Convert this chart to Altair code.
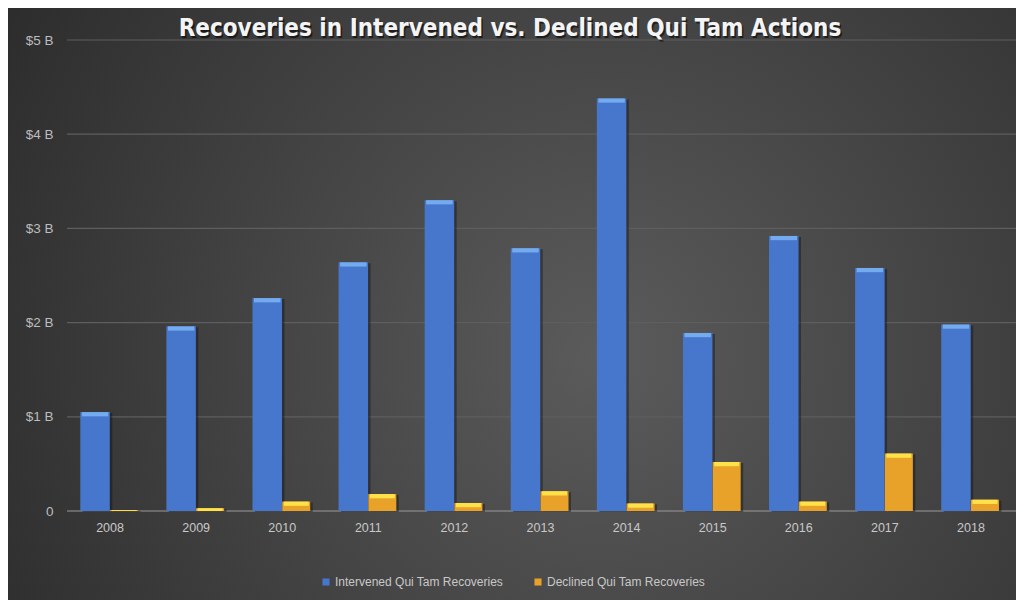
import altair as alt
import pandas as pd

years = ["2008", "2009", "2010", "2011", "2012", "2013", "2014", "2015", "2016", "2017", "2018"]
intervened = [1.05, 1.96, 2.26, 2.64, 3.30, 2.79, 4.38, 1.89, 2.92, 2.58, 1.98]
declined = [0.01, 0.03, 0.10, 0.18, 0.085, 0.21, 0.08, 0.52, 0.10, 0.61, 0.12]
series_names = ["Intervened Qui Tam Recoveries", "Declined Qui Tam Recoveries"]
series_colors = ["#4677CC", "#E9A229"]
highlight_colors = ["#74ABEE", "#FFE24A"]
y_ticks = [0, 1, 2, 3, 4, 5]
title_text = "Recoveries in Intervened vs. Declined Qui Tam Actions"

W, H = 947, 471
PAD = {"left": 59, "top": 32, "right": 2, "bottom": 89}

rows = []
for i, y in enumerate(years):
    rows.append({"year": y, "series": series_names[0], "value": intervened[i]})
    rows.append({"year": y, "series": series_names[1], "value": declined[i]})
df = pd.DataFrame(rows)

FONT = "Liberation Sans"

x_enc = alt.X(
    "year:N",
    sort=years,
    scale=alt.Scale(domain=years, paddingInner=0, paddingOuter=0),
    axis=alt.Axis(title=None, labelAngle=0, ticks=False, domain=False, grid=False,
                  labelColor="#c8c8c8", labelFontSize=12.5, labelFont=FONT,
                  labelPadding=10, zindex=1),
)
y_scale = alt.Scale(domain=[0, 5], nice=False, zero=True)
y_axis = alt.Axis(title=None, values=y_ticks, grid=False, domain=False, ticks=False,
                  labelExpr="datum.value == 0 ? '0' : '$' + datum.value + ' B'",
                  labelColor="#bdbdbd", labelFontSize=13.5, labelFont=FONT,
                  labelPadding=14, zindex=1)

one = pd.DataFrame({"t": [title_text]})

gradient = {
    "gradient": "radial",
    "x1": 0.59, "y1": 0.55, "x2": 0.59, "y2": 0.55, "r1": 0, "r2": 0.78,
    "stops": [{"offset": 0, "color": "#5b5b5b"}, {"offset": 1, "color": "#262626"}],
}
bg = alt.Chart(one).mark_rect(fill=gradient).encode(
    x=alt.value(-PAD["left"]), x2=alt.value(W + PAD["right"]),
    y=alt.value(-PAD["top"]), y2=alt.value(H + PAD["bottom"]),
)

grid = alt.Chart(pd.DataFrame({"g": y_ticks[1:]})).mark_rule(color="#5e5e5e", strokeWidth=1.2).encode(
    y=alt.Y("g:Q", scale=y_scale, axis=y_axis),
    x=alt.value(0), x2=alt.value(W + 3),
)
base_rule = alt.Chart(pd.DataFrame({"g": [0]})).mark_rule(color="#9a9a9a", strokeWidth=1.2).encode(
    y=alt.Y("g:Q", scale=y_scale, axis=y_axis),
    x=alt.value(0), x2=alt.value(W + 3),
)

color_scale = alt.Scale(domain=series_names, range=series_colors)
legend = alt.Legend(title=None, orient="none", legendX=253, legendY=536, direction="horizontal",
                    symbolType="square", symbolSize=50, symbolStrokeWidth=0,
                    labelFontSize=12, labelFont=FONT, labelColor="#c8c8c8", labelLimit=400,
                    columnPadding=28, labelOffset=3)

layers = [bg, grid, base_rule]
geom = [(-15, 29.5), (14, 28)]
for k, s in enumerate(series_names):
    off, w = geom[k]
    b = alt.Chart(df).transform_filter(alt.datum.series == s)
    shadow = b.mark_bar(width=w, xOffset=off + 2.5, yOffset=1, color="#151515", opacity=0.45).encode(
        x=x_enc, y=alt.Y("value:Q", scale=y_scale, axis=y_axis),
    )
    bar = b.mark_bar(width=w, xOffset=off).encode(
        x=x_enc, y=alt.Y("value:Q", scale=y_scale, axis=y_axis),
        color=alt.Color("series:N", scale=color_scale, legend=legend),
    )
    hl = b.transform_calculate(low="max(datum.value - 0.045, 0)").mark_bar(
        width=w - 3, xOffset=off, color=highlight_colors[k]
    ).encode(
        x=x_enc, y=alt.Y("value:Q", scale=y_scale, axis=y_axis), y2="low:Q",
    )
    layers += [shadow, bar, hl]

TITLE_FONT = "Liberation Sans Narrow, DejaVu Sans Condensed, sans-serif"
title_shadow = alt.Chart(one).mark_text(
    font=TITLE_FONT, fontSize=24, fontWeight="bold",
    color="#000000", opacity=0.55, align="center", baseline="alphabetic", dx=1.5, dy=2,
).encode(x=alt.value(443), y=alt.value(-4), text="t:N")
title = alt.Chart(one).mark_text(
    font=TITLE_FONT, fontSize=24, fontWeight="bold",
    color="#f4f4f4", align="center", baseline="alphabetic",
).encode(x=alt.value(443), y=alt.value(-4), text="t:N")
layers += [title_shadow, title]

chart = alt.layer(*layers).properties(
    width=W, height=H, padding=PAD, autosize=alt.AutoSizeParams(type="none"),
    background="#2e2e2e",
).configure_view(stroke=None)

chart.save("out.html", embed_options={"renderer": "svg", "actions": False})
